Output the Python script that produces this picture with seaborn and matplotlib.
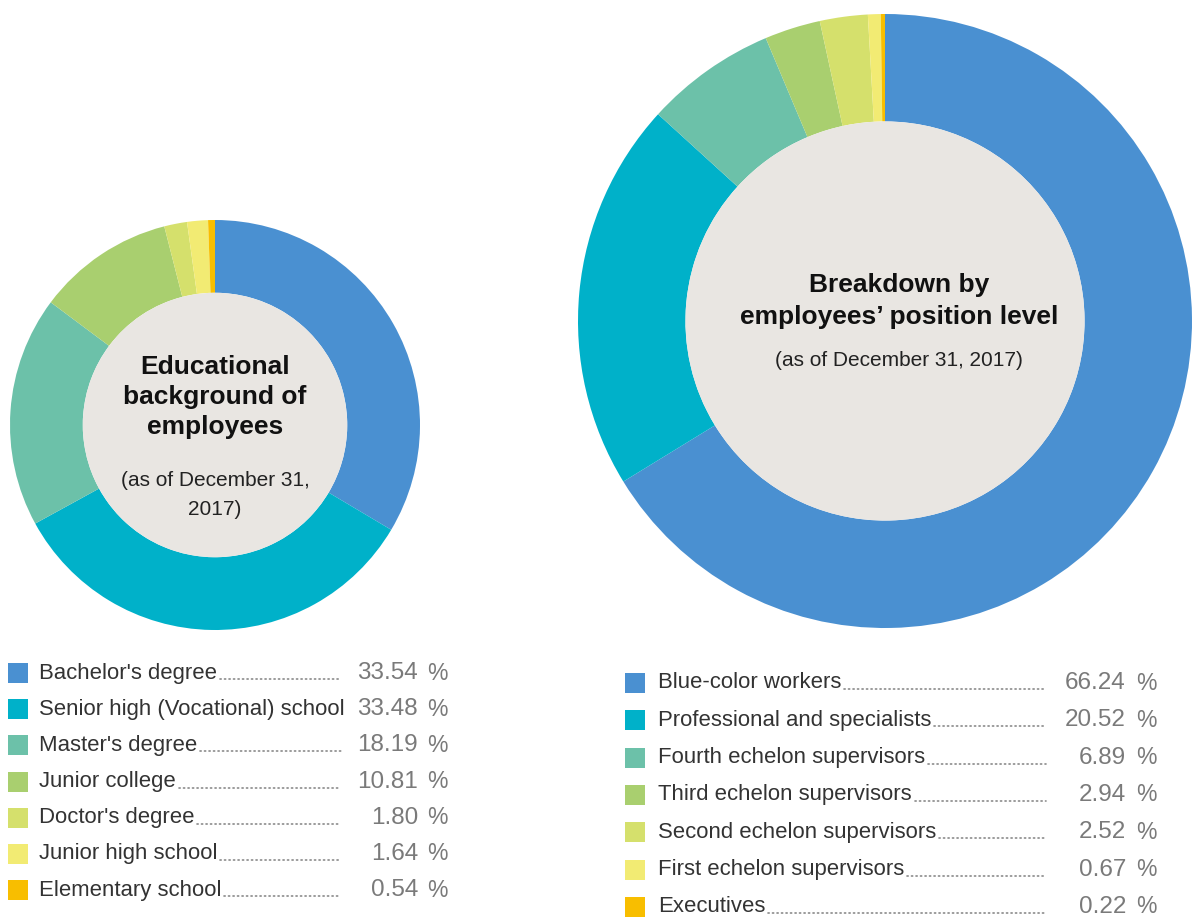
import matplotlib
matplotlib.use("Agg")
import matplotlib.pyplot as plt
import seaborn as sns
from matplotlib.patches import Rectangle, Circle

# ---------------- data ----------------
edu_labels = ["Bachelor's degree", "Senior high (Vocational) school", "Master's degree",
              "Junior college", "Doctor's degree", "Junior high school", "Elementary school"]
edu_values = [33.54, 33.48, 18.19, 10.81, 1.80, 1.64, 0.54]
edu_title = "Educational\nbackground of\nemployees"
edu_sub = "(as of December 31,\n2017)"

pos_labels = ["Blue-color workers", "Professional and specialists", "Fourth echelon supervisors",
              "Third echelon supervisors", "Second echelon supervisors", "First echelon supervisors",
              "Executives"]
pos_values = [66.24, 20.52, 6.89, 2.94, 2.52, 0.67, 0.22]
pos_title = "Breakdown by\nemployees\u2019 position level"
pos_sub = "(as of December 31, 2017)"

colors = ["#4A90D1", "#00B1C9", "#6CC1A9", "#A9CF6F", "#D5E06C", "#F2EB73", "#F8BE00"]
center_gray = "#E9E6E2"

# ---------------- style ----------------
sns.set_theme(style="white")
plt.rcParams["font.family"] = ["Liberation Sans", "DejaVu Sans"]
palette = sns.color_palette(colors)

W, H = 1195, 918
fig = plt.figure(figsize=(W / 100, H / 100), dpi=100)
fig.patch.set_facecolor("white")


def donut(cx, cy, r, inner_frac, values, title, sub, tsize, ssize, title_dy, sub_dy,
          tls, sls, tx=0):
    ax = fig.add_axes([(cx - r) / W, (H - cy - r) / H, 2 * r / W, 2 * r / H])
    ax.pie(values, colors=palette, startangle=90, counterclock=False, radius=1,
           wedgeprops=dict(width=1 - inner_frac, linewidth=0))
    ax.add_patch(Circle((0, 0), inner_frac, facecolor=center_gray, edgecolor="none", zorder=3))
    ax.set_xlim(-1, 1)
    ax.set_ylim(-1, 1)
    ax.set_aspect("auto")
    ax.axis("off")
    ax.text(tx / r, title_dy / r, title, ha="center", va="center", fontsize=tsize,
            fontweight="bold", color="#111111", linespacing=tls, zorder=4)
    ax.text(tx / r, sub_dy / r, sub, ha="center", va="center", fontsize=ssize,
            color="#222222", linespacing=sls, zorder=4)
    return ax


donut(215, 425, 205, 0.645, edu_values, edu_title, edu_sub, 19, 15, 28, -70, 1.3, 1.7)
donut(885, 321, 307, 0.65, pos_values, pos_title, pos_sub, 19, 15, 20, -39, 1.45, 1.3, tx=14)

# overlay in pixel coordinates for legends
ov = fig.add_axes([0, 0, 1, 1])
ov.set_xlim(0, W)
ov.set_ylim(H, 0)
ov.axis("off")


def legend(labels, values, x_sq, y0, dy, x_text, x_num_right, x_pct):
    texts = []
    for i, (lab, val) in enumerate(zip(labels, values)):
        y = y0 + i * dy
        ov.add_patch(Rectangle((x_sq, y - 10), 20, 20, facecolor=palette[i], edgecolor="none"))
        t = ov.text(x_text, y, lab, ha="left", va="center", fontsize=15.9, color="#333333")
        texts.append((t, y))
        ov.text(x_num_right, y, f"{val:.2f}", ha="right", va="center", fontsize=17.5,
                color="#7a7a7a")
        ov.text(x_pct, y, "%", ha="left", va="center", fontsize=16.5, color="#7a7a7a")
    return texts


leg1 = legend(edu_labels, edu_values, 8, 673, 36.2, 39, 418, 427)
leg2 = legend(pos_labels, pos_values, 625, 683, 37.3, 658, 1126, 1136)

fig.canvas.draw()
renderer = fig.canvas.get_renderer()
inv = ov.transData.inverted()
for texts, xend in ((leg1, 341), (leg2, 1046)):
    for t, y in texts:
        bb = t.get_window_extent(renderer)
        x0 = inv.transform((bb.x1, 0))[0] + 3
        if x0 < xend - 4:
            ov.plot([x0, xend], [y + 6, y + 6], color="#8a8a8a", lw=1.2,
                    linestyle=(0, (0.7, 2.0)), solid_capstyle="round", dash_capstyle="round")

fig.savefig("out.png", dpi=100, facecolor="white")
